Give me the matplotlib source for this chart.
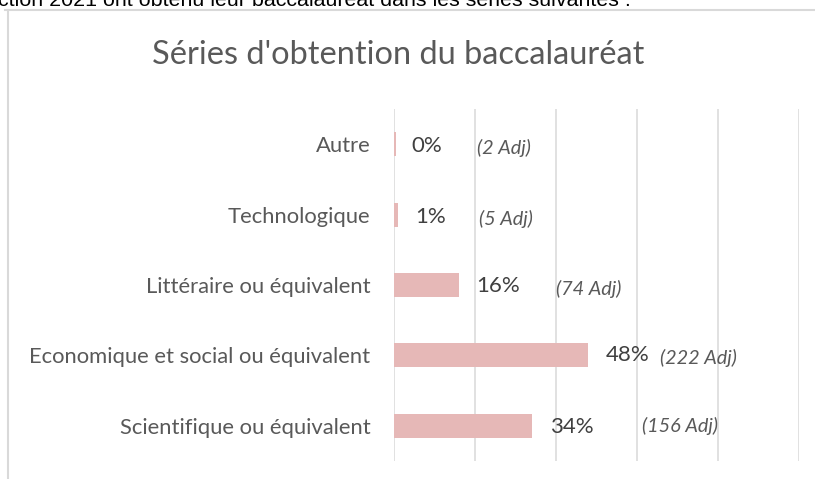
import matplotlib
matplotlib.use("Agg")
import matplotlib.pyplot as plt
from matplotlib.lines import Line2D

# ---- data ----
categories = ["Scientifique ou équivalent", "Economique et social ou équivalent",
              "Littéraire ou équivalent", "Technologique", "Autre"]
shares = [0.34, 0.48, 0.16, 0.01, 0.004]
pct_labels = ["34%", "48%", "16%", "1%", "0%"]
adj_labels = ["(156 Adj)", "(222 Adj)", "(74 Adj)", "(5 Adj)", "(2 Adj)"]
title = "Séries d'obtention du baccalauréat"
header = "ction 2021 ont obtenu leur baccalauréat dans les séries suivantes :"

# ---- layout (label placements, in axis units) ----
pct_x = [0.385, 0.523, 0.202, 0.052, 0.044]
pct_dy = [-0.02, 0.0, -0.02, -0.03, -0.02]
adj_x = [0.612, 0.657, 0.400, 0.210, 0.205]
adj_dy = [0.0, -0.04, -0.05, -0.06, -0.05]

W, H = 815, 479
fig = plt.figure(figsize=(W / 100, H / 100), dpi=100)
fig.patch.set_facecolor("white")

# outer chart frame
fig.add_artist(Line2D([5 / W, 1.0], [1 - 10 / H, 1 - 10 / H], transform=fig.transFigure,
                      color="#d9d9d9", lw=1.5))
fig.add_artist(Line2D([8 / W, 8 / W], [1 - 10 / H, 0], transform=fig.transFigure,
                      color="#d9d9d9", lw=1.5))

# header text cut off at the top
fig.text(-2 / W, 1 - 6 / H, header, fontsize=15.4, family="Liberation Sans",
         color="black", ha="left", va="baseline")

ax = fig.add_axes([394 / W, (H - 461) / H, 405 / W, 352 / H])
y = list(range(len(categories)))
ax.barh(y, shares, height=0.34, color="#e6b8b7", zorder=3)
ax.set_xlim(0, 1)
ax.set_ylim(-0.5, len(categories) - 0.5)
ax.set_xticks([0, 0.2, 0.4, 0.6, 0.8, 1.0])
ax.grid(axis="x", color="#d9d9d9", lw=1.1, zorder=0)
ax.tick_params(axis="x", length=0, labelbottom=False)
ax.tick_params(axis="y", length=0, pad=17)
ax.set_yticks(y)
ax.set_yticklabels(categories, fontsize=15.8, family="Lato", color="#595959")
for s in ax.spines.values():
    s.set_visible(False)

for i in y:
    ax.text(pct_x[i], i + pct_dy[i], pct_labels[i], fontsize=16, family="Lato",
            color="#404040", ha="left", va="center", zorder=4)
    ax.text(adj_x[i], i + adj_dy[i], adj_labels[i], fontsize=14.3, family="Lato",
            style="italic", color="#595959", ha="left", va="center", zorder=4)

fig.text(398 / W, 1 - 55 / H, title, fontsize=23.4, family="Lato", color="#595959",
         ha="center", va="center")

fig.savefig("out.png", dpi=100, facecolor="white")
